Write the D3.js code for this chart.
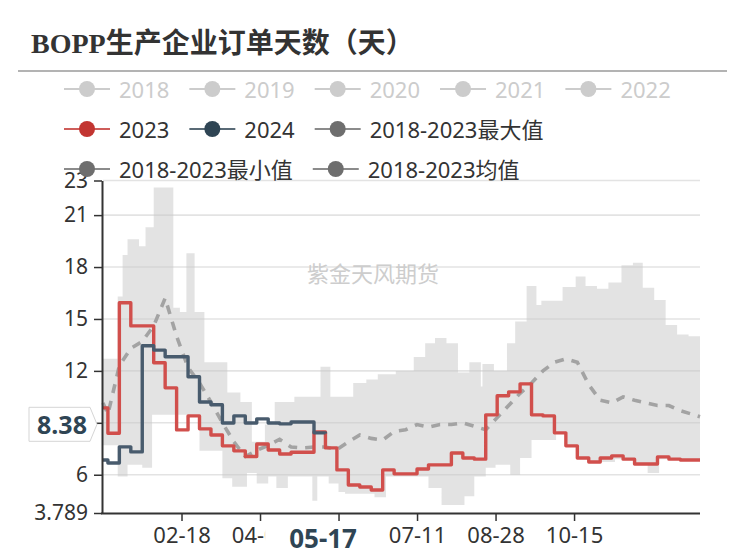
<!DOCTYPE html>
<html><head><meta charset="utf-8">
<script src="https://cdn.jsdelivr.net/npm/d3@7"></script>
<style>html,body{margin:0;padding:0;background:#fff;}svg{display:block;}</style>
</head><body>
<script>
// ---------------- DATA ----------------
const dates = ["01-01","01-04","01-11","01-18","01-25","02-01","02-08","02-15","02-22","02-29","03-07","03-14","03-21","03-28","04-04","04-11","04-18","04-25","05-02","05-09","05-16","05-23","05-30","06-06","06-13","06-20","06-27","07-04","07-11","07-18","07-25","08-01","08-08","08-15","08-22","08-29","09-05","09-12","09-19","09-26","10-03","10-10","10-17","10-24","10-31","11-07","11-14","11-21","11-28","12-05","12-12","12-19","12-26","12-31"];
const s2023 = [9.86,8.4,15.94,14.6,14.6,12.47,11.02,8.59,9.4,8.65,8.3,7.67,7.38,7.05,7.78,7.43,7.2,7.3,7.3,8.47,7.55,6.28,5.41,5.29,5.12,6.28,6.05,6.05,6.33,6.57,6.57,7.26,6.97,6.9,9.46,10.56,10.79,11.25,9.46,9.4,8.42,7.67,6.97,6.74,6.97,7.09,6.9,6.62,6.62,7.03,6.9,6.85,6.85,6.85];
const s2024 = [6.85,6.68,7.61,7.32,13.45,13.2,12.82,12.82,11.66,10.2,10.04,8.99,9.4,8.99,9.23,8.99,8.94,9.05,9.05,8.42,8.38];
const avgVals = [10.15,9.5,12.3,13.3,13.7,14.6,16.2,14.0,12.2,11.3,10.2,9.0,7.9,7.05,7.4,7.7,8.05,7.6,7.55,7.6,7.6,7.45,7.9,8.3,8.1,8.0,8.5,8.6,8.9,8.75,8.9,8.9,9.0,8.8,8.6,9.3,10.0,10.7,11.3,12.0,12.5,12.7,12.5,11.2,10.3,10.15,10.5,10.3,10.15,10.0,10.0,9.7,9.5,9.35];
const maxDates = ["01-01","01-10","01-13","01-16","01-23","01-27","02-01","02-13","02-17","02-21","02-26","03-03","03-17","03-25","04-01","04-09","04-15","04-27","05-13","05-19","06-02","06-10","06-17","06-28","07-09","07-16","07-22","07-29","08-05","08-12","08-19","08-20","08-27","09-04","09-09","09-16","09-22","09-25","10-08","10-16","10-22","10-29","11-05","11-13","11-20","11-26","12-03","12-10","12-17","12-24","12-31"];
const maxVals = [12.7,16.3,18.7,19.6,19.2,20.3,22.6,15.65,15.4,18.8,15.4,12.5,10.75,10.2,7.9,8.9,10.2,10.5,12.24,10.5,11.3,11.5,11.8,12.0,12.8,13.6,13.9,13.6,11.9,12.5,11.1,12.4,12.0,13.6,14.85,16.9,15.8,16.05,16.85,17.45,16.9,16.75,17.1,18.1,18.25,16.8,16.1,14.65,14.1,14.0,14.0];
const minDates = ["01-01","01-10","01-16","01-25","01-31","02-29","03-14","03-20","03-29","04-04","04-11","04-16","04-23","05-08","05-11","05-18","05-24","05-28","06-15","06-22","07-18","07-26","08-09","08-15","08-22","08-28","09-06","09-12","09-19","10-04","10-11","10-18","10-25","11-09","11-21","11-29","12-06","12-13","12-31"];
const minVals = [7.7,5.9,6.57,6.4,9.46,7.38,5.8,5.3,6.1,5.5,5.9,5.24,5.9,4.5,5.9,5.5,5.0,4.9,4.7,5.9,5.24,4.25,4.75,5.9,6.4,6.57,6.0,6.97,8.0,8.42,7.67,6.97,6.74,6.9,6.62,6.1,6.9,6.85,6.85];
const yTicks = [3.789, 6, 9, 12, 15, 18, 21, 23];
const xTickDates = ["02-18","04-06","05-24","07-11","08-28","10-15"];
const legendNames = ["2018","2019","2020","2021","2022","2023","2024","2018-2023最大值","2018-2023最小值","2018-2023均值"];
const legendActive = [false,false,false,false,false,true,true,true,true,true];
const legendColors = ["#ccc","#ccc","#ccc","#ccc","#ccc","#c23531","#2f4554","#6e6e6e","#6e6e6e","#6e6e6e"];
const pointerDate = "05-17";
const pointerValue = 8.38;
const titleText = "BOPP生产企业订单天数（天）";
const watermark = "紫金天风期货";

// ---------------- CHART ----------------
const W = 746, H = 557;
const svg = d3.select("body").append("svg").attr("width", W).attr("height", H);
const FONT = "'Noto Sans','Noto Sans CJK SC',sans-serif";
const dayOf = s => { const [m, d] = s.split("-").map(Number); return d3.utcDay.count(new Date(Date.UTC(2024,0,1)), new Date(Date.UTC(2024,m-1,d))); };

const x = d3.scaleLinear().domain([0, 365]).range([103, 700]);
const y = d3.scaleLinear().domain([3.789, 23]).range([513, 180.5]);

// grid
svg.append("g").selectAll("line").data(yTicks.filter(t => t !== 3.789)).join("line")
  .attr("x1", 103).attr("x2", 700).attr("y1", d => y(d)).attr("y2", d => y(d))
  .attr("stroke", "#e3e3e3").attr("stroke-width", 1.6);

// band (max/min)
const stepVal = (ds, vs, day) => { let v = vs[0]; for (let i = 0; i < ds.length; i++) { if (dayOf(ds[i]) <= day) v = vs[i]; } return v; };
const bandDays = Array.from(new Set(maxDates.concat(minDates).map(dayOf))).sort((a,b)=>a-b);
const band = bandDays.map(d => ({d, hi: stepVal(maxDates, maxVals, d), lo: stepVal(minDates, minVals, d)}));
svg.append("path").datum(band)
  .attr("d", d3.area().curve(d3.curveStepAfter).x(p => x(p.d)).y0(p => y(p.lo)).y1(p => y(p.hi)))
  .attr("fill", "#c8c8c8").attr("fill-opacity", 0.5);

// watermark
svg.append("text").attr("x", 373).attr("y", 272).attr("text-anchor", "middle").attr("dominant-baseline", "central")
  .attr("font-family", "'Noto Sans CJK SC',sans-serif").attr("font-size", 22).attr("fill", "#cdcdcd").text(watermark);

// avg dashed
const avgData = dates.map((dt, i) => ({d: dayOf(dt), v: avgVals[i]}));
svg.append("path").datum(avgData)
  .attr("d", d3.line().x(p => x(p.d)).y(p => y(p.v)))
  .attr("fill", "none").attr("stroke", "#a3a3a3").attr("stroke-width", 3.6).attr("stroke-dasharray", "9,8");

// 2023
const r23 = dates.map((dt, i) => ({d: dayOf(dt), v: s2023[i]}));
svg.append("path").datum(r23)
  .attr("d", d3.line().curve(d3.curveStepAfter).x(p => x(p.d)).y(p => y(p.v)))
  .attr("fill", "none").attr("stroke", "#d14f4c").attr("stroke-width", 3.4).attr("stroke-linejoin", "round");

// 2024
const r24 = s2024.map((v, i) => ({d: dayOf(dates[i]), v}));
svg.append("path").datum(r24)
  .attr("d", d3.line().curve(d3.curveStepAfter).x(p => x(p.d)).y(p => y(p.v)))
  .attr("fill", "none").attr("stroke", "#485b6d").attr("stroke-width", 3.4).attr("stroke-linejoin", "round");

// axes
const yAxis = svg.append("g").attr("transform", "translate(102,0)")
  .call(d3.axisLeft(y).tickValues(yTicks).tickFormat(d => String(d)).tickSize(8).tickSizeOuter(0).tickPadding(6));
yAxis.selectAll("text").attr("font-family", FONT).attr("font-size", 21).attr("fill", "#333");
yAxis.selectAll("line").attr("stroke", "#333").attr("stroke-width", 1.5);
yAxis.select(".domain").attr("stroke", "#333").attr("stroke-width", 2);

const xAxis = svg.append("g").attr("transform", "translate(0,513)")
  .call(d3.axisBottom(x).tickValues(xTickDates.map(dayOf)).tickFormat((d, i) => xTickDates[i]).tickSize(8).tickSizeOuter(0).tickPadding(6));
xAxis.selectAll("text").attr("font-family", FONT).attr("font-size", 22).attr("fill", "#333");
xAxis.selectAll("line").attr("stroke", "#333").attr("stroke-width", 1.5);
xAxis.select(".domain").attr("stroke", "#333").attr("stroke-width", 2).attr("d", "M101,0.5H700");

// axis pointer labels (they cover the tick labels underneath them)
const px = x(dayOf(pointerDate)) - 4;
const py = y(9) + 1.5;
xAxis.selectAll(".tick text").filter(function() { const b = this.getBBox(); const c = x(d3.select(this.parentNode).datum()); return Math.abs(c - px) < 30; }).remove();
yAxis.selectAll(".tick text").filter(function() { return Math.abs(y(d3.select(this.parentNode).datum()) - py) < 10; }).remove();

svg.append("rect").attr("x", px - 58).attr("y", 523).attr("width", 116).attr("height", 34).attr("fill", "#fff");
svg.append("text").attr("x", px).attr("y", 538).attr("text-anchor", "middle").attr("dominant-baseline", "central")
  .attr("font-family", FONT).attr("font-weight", "bold").attr("font-size", 26).attr("fill", "#2f4554").text(pointerDate);
svg.append("path").attr("d", `M29,${py-17}H90L97,${py}L90,${py+17}H29Z`).attr("fill", "#fff").attr("stroke", "#d5d5d5").attr("stroke-width", 1);
svg.append("text").attr("x", 62).attr("y", py).attr("text-anchor", "middle").attr("dominant-baseline", "central")
  .attr("font-family", FONT).attr("font-weight", "bold").attr("font-size", 25).attr("fill", "#2f4554").text(pointerValue.toFixed(2));

// title
svg.append("text").attr("x", 31).attr("y", 43).attr("dominant-baseline", "central")
  .attr("font-family", "'Liberation Serif','DejaVu Serif','Noto Sans CJK SC',serif").attr("font-weight", "bold")
  .attr("font-size", 28).attr("fill", "#333").text(titleText);
svg.append("line").attr("x1", 18).attr("x2", 727).attr("y1", 71).attr("y2", 71).attr("stroke", "#b3b3b3").attr("stroke-width", 2);

// legend
const lg = svg.append("g");
let cx = 64, row = 0;
const rowY = [89, 129, 169];
legendNames.forEach((name, i) => {
  const g = lg.append("g");
  const t = g.append("text").attr("x", 55).attr("y", 0).attr("dominant-baseline", "central")
    .attr("font-family", FONT).attr("font-size", 22).attr("fill", legendActive[i] ? "#333" : "#ccc").text(name);
  const tw = t.node().getComputedTextLength();
  if (cx + 55 + tw > 720) { row += 1; cx = 64; }
  g.attr("transform", `translate(${cx},${rowY[row]})`);
  g.insert("line", "text").attr("x1", 0).attr("x2", 46).attr("y1", 0).attr("y2", 0)
    .attr("stroke", legendColors[i]).attr("stroke-width", 2).attr("stroke-opacity", legendActive[i] ? 0.8 : 1);
  g.insert("circle", "text").attr("cx", 23).attr("cy", 0).attr("r", 8).attr("fill", legendColors[i]);
  cx += 55 + tw + 20;
});
</script>
</body></html>
